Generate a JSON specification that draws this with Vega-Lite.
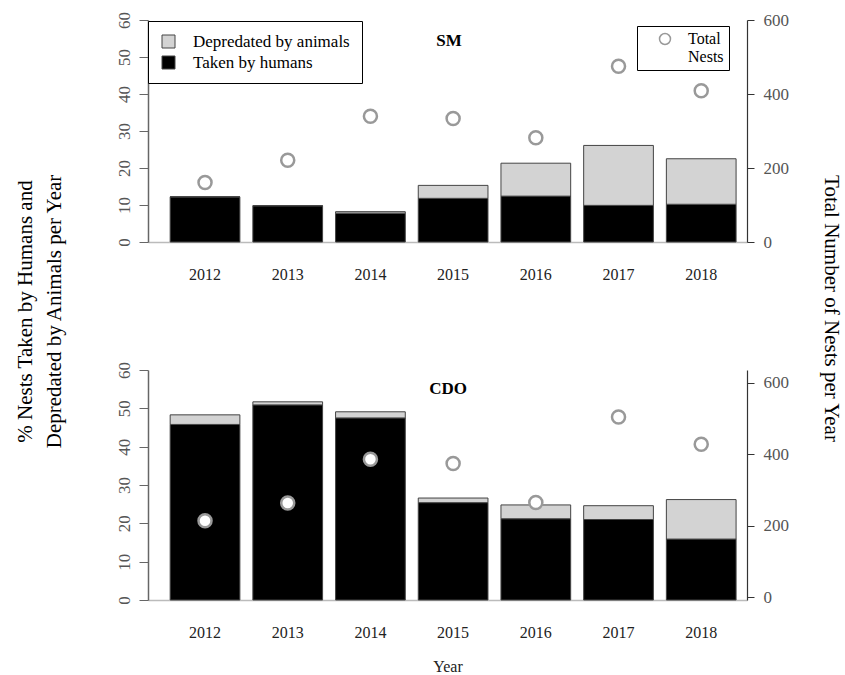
{
  "$schema": "https://vega.github.io/schema/vega-lite/v6.json",
  "padding": {"left": 14, "top": 11, "right": 5, "bottom": 5},
  "background": "white",
  "bounds": "flush",
  "spacing": 128,
  "config": {
    "font": "Liberation Serif",
    "view": {"stroke": null},
    "axis": {"labelFont": "Liberation Serif", "titleFont": "Liberation Serif", "grid": false, "labelOverlap": false},
    "legend": {"labelFont": "Liberation Serif", "labelFontSize": 16, "labelColor": "black"},
    "title": {"font": "Liberation Serif"}
  },
  "datasets": {
    "bars": [
      {"site": "SM", "year": "2012", "type": "Taken by humans", "pct": 12.2},
      {"site": "SM", "year": "2012", "type": "Depredated by animals", "pct": 0},
      {"site": "SM", "year": "2013", "type": "Taken by humans", "pct": 9.8},
      {"site": "SM", "year": "2013", "type": "Depredated by animals", "pct": 0},
      {"site": "SM", "year": "2014", "type": "Taken by humans", "pct": 7.8},
      {"site": "SM", "year": "2014", "type": "Depredated by animals", "pct": 0.4},
      {"site": "SM", "year": "2015", "type": "Taken by humans", "pct": 11.8},
      {"site": "SM", "year": "2015", "type": "Depredated by animals", "pct": 3.5},
      {"site": "SM", "year": "2016", "type": "Taken by humans", "pct": 12.4},
      {"site": "SM", "year": "2016", "type": "Depredated by animals", "pct": 8.9},
      {"site": "SM", "year": "2017", "type": "Taken by humans", "pct": 9.9},
      {"site": "SM", "year": "2017", "type": "Depredated by animals", "pct": 16.2},
      {"site": "SM", "year": "2018", "type": "Taken by humans", "pct": 10.2},
      {"site": "SM", "year": "2018", "type": "Depredated by animals", "pct": 12.3},
      {"site": "CDO", "year": "2012", "type": "Taken by humans", "pct": 45.8},
      {"site": "CDO", "year": "2012", "type": "Depredated by animals", "pct": 2.5},
      {"site": "CDO", "year": "2013", "type": "Taken by humans", "pct": 50.9},
      {"site": "CDO", "year": "2013", "type": "Depredated by animals", "pct": 0.8},
      {"site": "CDO", "year": "2014", "type": "Taken by humans", "pct": 47.5},
      {"site": "CDO", "year": "2014", "type": "Depredated by animals", "pct": 1.6},
      {"site": "CDO", "year": "2015", "type": "Taken by humans", "pct": 25.4},
      {"site": "CDO", "year": "2015", "type": "Depredated by animals", "pct": 1.2},
      {"site": "CDO", "year": "2016", "type": "Taken by humans", "pct": 21.2},
      {"site": "CDO", "year": "2016", "type": "Depredated by animals", "pct": 3.6},
      {"site": "CDO", "year": "2017", "type": "Taken by humans", "pct": 21.0},
      {"site": "CDO", "year": "2017", "type": "Depredated by animals", "pct": 3.6},
      {"site": "CDO", "year": "2018", "type": "Taken by humans", "pct": 15.9},
      {"site": "CDO", "year": "2018", "type": "Depredated by animals", "pct": 10.3}
    ],
    "totals": [
      {"site": "SM", "year": "2012", "total": 161},
      {"site": "SM", "year": "2013", "total": 221},
      {"site": "SM", "year": "2014", "total": 340},
      {"site": "SM", "year": "2015", "total": 334},
      {"site": "SM", "year": "2016", "total": 282},
      {"site": "SM", "year": "2017", "total": 475},
      {"site": "SM", "year": "2018", "total": 409},
      {"site": "CDO", "year": "2012", "total": 214},
      {"site": "CDO", "year": "2013", "total": 264},
      {"site": "CDO", "year": "2014", "total": 386},
      {"site": "CDO", "year": "2015", "total": 374},
      {"site": "CDO", "year": "2016", "total": 265},
      {"site": "CDO", "year": "2017", "total": 504},
      {"site": "CDO", "year": "2018", "total": 428}
    ],
    "sites": [
      {"site": "SM", "year": "2015", "pct": 54.3},
      {"site": "CDO", "year": "2015", "pct": 55}
    ]
  },
  "resolve": {"scale": {"color": "independent", "shape": "independent"}},
  "vconcat": [
    {
      "width": 599,
      "height": 222,
      "layer": [
        {
          "encoding": {
            "x": {
              "field": "year", "type": "ordinal",
              "scale": {"paddingInner": 0.157, "paddingOuter": 0.2, "align": 0.67},
              "axis": {"title": null, "labelAngle": 0, "ticks": false, "tickSize": 0, "labelPadding": 24, "labelFontSize": 16, "labelColor": "#222", "domainColor": "#bbb", "domainWidth": 1.5}
            },
            "y": {
              "field": "pct", "type": "quantitative",
              "scale": {"domain": [0, 60], "nice": false},
              "axis": {
                "values": [0, 10, 20, 30, 40, 50, 60], "labelOverlap": false, "labelFlush": false,
                "labelAngle": 270, "labelAlign": "center", "labelBaseline": "bottom",
                "labelFontSize": 17, "labelColor": "#555", "labelPadding": 6,
                "tickSize": 9, "tickColor": "#666", "domainColor": "#666", "domainWidth": 1.5,
                "title": ["% Nests Taken by Humans and", "Depredated by Animals per Year"],
                "titleX": -123, "titleY": 291, "titleAngle": 270, "titleAlign": "center", "titleBaseline": "middle",
                "titleFontSize": 21, "titleFontWeight": "normal", "titleColor": "black", "titleLineHeight": 29
              }
            }
          },
          "layer": [
            {
              "data": {"name": "bars"},
              "transform": [{"filter": "datum.site === 'SM'"}],
              "mark": {"type": "bar", "stroke": "#444", "strokeWidth": 1},
              "encoding": {
                "color": {
                  "field": "type", "type": "nominal",
                  "scale": {"domain": ["Depredated by animals", "Taken by humans"], "range": ["#d3d3d3", "#000000"]},
                  "legend": {
                    "title": null, "orient": "none", "legendX": 0, "legendY": 1,
                    "strokeColor": "black", "fillColor": "white", "padding": 12,
                    "symbolType": "square", "symbolSize": 169, "symbolStrokeColor": "#444", "symbolStrokeWidth": 1,
                    "labelOffset": 16, "rowPadding": 3, "labelFontSize": 17
                  }
                },
                "order": {"field": "type", "sort": "descending"}
              }
            },
            {
              "data": {"name": "sites"},
              "transform": [{"filter": "datum.site === 'SM'"}],
              "mark": {"type": "text", "fontWeight": "bold", "fontSize": 17, "font": "Liberation Serif", "baseline": "middle", "align": "center", "dx": -4, "color": "black"},
              "encoding": {
                "text": {"field": "site"}
              }
            }
          ]
        },
        {
          "data": {"name": "totals"},
          "transform": [{"filter": "datum.site === 'SM'"}],
          "mark": {"type": "point", "shape": "circle", "filled": false, "fill": "white", "stroke": "#999", "strokeWidth": 2.5, "size": 170, "opacity": 1},
          "encoding": {
            "x": {"field": "year", "type": "ordinal"},
            "y": {
              "field": "total", "type": "quantitative",
              "scale": {"domain": [0, 600], "nice": false},
              "axis": {
                "orient": "right", "values": [0, 200, 400, 600], "labelOverlap": false, "labelFlush": false,
                "labelFontSize": 17, "labelColor": "#555", "labelPadding": 9,
                "tickSize": 7, "tickColor": "#333", "domainColor": "#333", "domainWidth": 1.2,
                "title": "Total Number of Nests per Year",
                "titleX": 83, "titleY": 288, "titleAngle": 90, "titleAlign": "center", "titleBaseline": "middle",
                "titleFontSize": 21, "titleFontWeight": "normal", "titleColor": "black"
              }
            },
            "shape": {
              "datum": "Total Nests",
              "scale": {"range": ["circle"]},
              "legend": {
                "title": null, "orient": "none", "legendX": 489, "legendY": 6,
                "strokeColor": "black", "fillColor": "white", "padding": 5,
                "symbolOffset": 15, "symbolSize": 120, "symbolType": "circle",
                "labelOffset": 15, "labelFontSize": 16, "labelLineHeight": 20, "labelAlign": "left",
                "labelExpr": "['Total', 'Nests\u00a0\u00a0\u00a0\u00a0\u00a0']",
                "encode": {
                  "symbols": {
                    "update": {
                      "fill": {"value": "white"},
                      "stroke": {"value": "#999999"},
                      "strokeWidth": {"value": 2.5},
                      "opacity": {"value": 1},
                      "fillOpacity": {"value": 1},
                      "strokeOpacity": {"value": 1}
                    }
                  }
                }
              }
            }
          }
        }
      ],
      "resolve": {"scale": {"y": "independent"}}
    },
    {
      "width": 599,
      "height": 230,
      "layer": [
        {
          "encoding": {
            "x": {
              "field": "year", "type": "ordinal",
              "scale": {"paddingInner": 0.157, "paddingOuter": 0.2, "align": 0.67},
              "axis": {"title": "Year", "titleFontSize": 16, "titleFontWeight": "normal", "titleColor": "#222", "titlePadding": 18, "labelAngle": 0, "ticks": false, "tickSize": 0, "labelPadding": 24, "labelFontSize": 16, "labelColor": "#222", "domainColor": "#bbb", "domainWidth": 1.5}
            },
            "y": {
              "field": "pct", "type": "quantitative",
              "scale": {"domain": [0, 60], "nice": false},
              "axis": {
                "values": [0, 10, 20, 30, 40, 50, 60], "title": null, "labelOverlap": false, "labelFlush": false,
                "labelAngle": 270, "labelAlign": "center", "labelBaseline": "bottom",
                "labelFontSize": 17, "labelColor": "#555", "labelPadding": 6,
                "tickSize": 9, "tickColor": "#666", "domainColor": "#666", "domainWidth": 1.5
              }
            }
          },
          "layer": [
            {
              "data": {"name": "bars"},
              "transform": [{"filter": "datum.site === 'CDO'"}],
              "mark": {"type": "bar", "stroke": "#444", "strokeWidth": 1},
              "encoding": {
                "color": {
                  "field": "type", "type": "nominal",
                  "scale": {"domain": ["Depredated by animals", "Taken by humans"], "range": ["#d3d3d3", "#000000"]},
                  "legend": null
                },
                "order": {"field": "type", "sort": "descending"}
              }
            },
            {
              "data": {"name": "sites"},
              "transform": [{"filter": "datum.site === 'CDO'"}],
              "mark": {"type": "text", "fontWeight": "bold", "fontSize": 17, "font": "Liberation Serif", "baseline": "middle", "align": "center", "dx": -5, "color": "black"},
              "encoding": {
                "text": {"field": "site"}
              }
            }
          ]
        },
        {
          "data": {"name": "totals"},
          "transform": [{"filter": "datum.site === 'CDO'"}],
          "mark": {"type": "point", "shape": "circle", "filled": false, "fill": "white", "stroke": "#999", "strokeWidth": 2.5, "size": 170, "opacity": 1},
          "encoding": {
            "x": {"field": "year", "type": "ordinal"},
            "y": {
              "field": "total", "type": "quantitative",
              "scale": {"domain": [-7, 635], "nice": false, "zero": false},
              "axis": {
                "orient": "right", "values": [0, 200, 400, 600], "title": null, "labelOverlap": false, "labelFlush": false,
                "labelFontSize": 17, "labelColor": "#555", "labelPadding": 9,
                "tickSize": 7, "tickColor": "#333", "domainColor": "#333", "domainWidth": 1.2
              }
            }
          }
        }
      ],
      "resolve": {"scale": {"y": "independent"}}
    }
  ]
}
